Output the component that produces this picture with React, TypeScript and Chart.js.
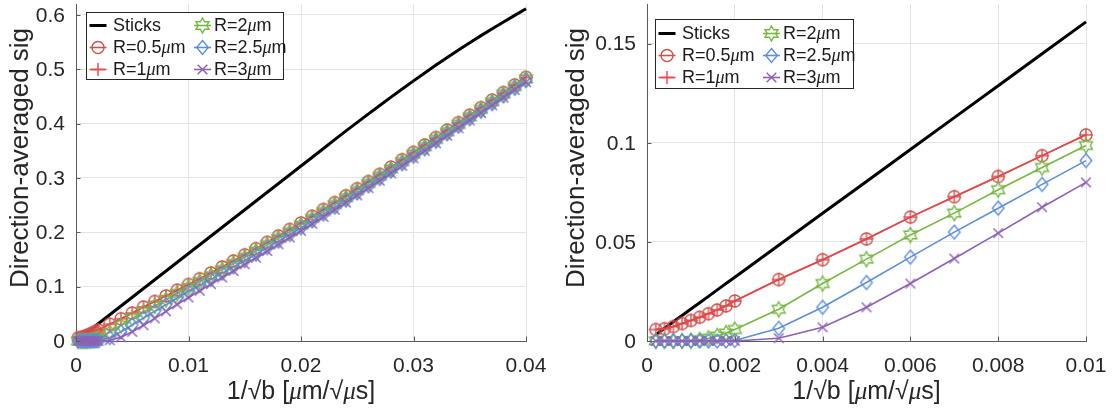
import React, { useEffect, useRef } from 'react';
import { Chart, registerables } from 'chart.js';

Chart.register(...registerables);

const FONT = '"Liberation Sans", Arial, Helvetica, sans-serif';
const MU_FONT = '"Liberation Serif", "DejaVu Serif", serif';
const AXIS_COLOR = '#5a5a5a';
const GRID_COLOR = '#e4e4e4';
const TEXT_COLOR = '#262626';

// ---------------- data ----------------
const xValues = [
  0.0002, 0.0004, 0.0006, 0.0008, 0.001, 0.0012, 0.0014, 0.0016, 0.0018, 0.002,
  0.003, 0.004, 0.005, 0.006, 0.007, 0.008, 0.009, 0.01,
  0.011, 0.012, 0.013, 0.014, 0.015, 0.016, 0.017, 0.018, 0.019, 0.02,
  0.021, 0.022, 0.023, 0.024, 0.025, 0.026, 0.027, 0.028, 0.029, 0.03,
  0.031, 0.032, 0.033, 0.034, 0.035, 0.036, 0.037, 0.038, 0.039, 0.04,
];

const sticksValues = [
  0.0032, 0.0064, 0.0097, 0.0129, 0.0161, 0.0193, 0.0225, 0.0258, 0.029, 0.0322,
  0.0483, 0.0644, 0.0805, 0.0966, 0.1127, 0.1288, 0.1449, 0.161,
  0.1771, 0.1932, 0.2093, 0.2254, 0.2415, 0.2576, 0.2737, 0.2898, 0.3059, 0.322,
  0.338, 0.3541, 0.3705, 0.3865, 0.4022, 0.4178, 0.4333, 0.4486, 0.4637, 0.4786,
  0.4932, 0.5076, 0.5216, 0.5353, 0.5487, 0.5618, 0.5745, 0.5868, 0.599, 0.6113,
];

const r05Values = [
  0.0058, 0.0062, 0.0073, 0.0088, 0.0104, 0.012, 0.0138, 0.0157, 0.0177, 0.0202,
  0.031, 0.041, 0.0515, 0.0625, 0.0728, 0.083, 0.0935, 0.104,
  0.1146, 0.1253, 0.1362, 0.1473, 0.1586, 0.17, 0.1816, 0.1933, 0.2053, 0.2173,
  0.2296, 0.242, 0.2546, 0.2673, 0.2803, 0.2934, 0.3066, 0.32, 0.3335, 0.3471,
  0.3607, 0.3743, 0.388, 0.4017, 0.4155, 0.4293, 0.4432, 0.4571, 0.4711, 0.4851,
];

const r1Values = [
  0.0058, 0.0062, 0.0073, 0.0088, 0.0104, 0.012, 0.0138, 0.0157, 0.0177, 0.0202,
  0.031, 0.041, 0.0515, 0.0625, 0.0728, 0.083, 0.0935, 0.104,
  0.1146, 0.1253, 0.1362, 0.1473, 0.1586, 0.17, 0.1816, 0.1933, 0.2053, 0.2173,
  0.2296, 0.242, 0.2546, 0.2673, 0.2803, 0.2934, 0.3066, 0.32, 0.3335, 0.3471,
  0.3607, 0.3743, 0.388, 0.4017, 0.4155, 0.4293, 0.4432, 0.4571, 0.4711, 0.4851,
];

const r2Values = [
  0, 0, 0, 0, 0.0002, 0.0006, 0.0014, 0.0025, 0.004, 0.0058,
  0.016, 0.029, 0.0413, 0.0535, 0.0645, 0.0763, 0.0875, 0.0986,
  0.1094, 0.1203, 0.1313, 0.1426, 0.154, 0.1655, 0.1772, 0.189, 0.2011, 0.2132,
  0.2256, 0.2381, 0.2508, 0.2636, 0.2767, 0.2898, 0.3031, 0.3165, 0.3301, 0.3437,
  0.3574, 0.371, 0.3848, 0.3985, 0.4124, 0.4262, 0.4401, 0.4541, 0.4681, 0.4821,
];

const r25Values = [
  0, 0, 0, 0, 0, 0, 0, 0, 0, 0.0003,
  0.0064, 0.017, 0.0295, 0.0423, 0.0549, 0.067, 0.079, 0.091,
  0.1022, 0.1134, 0.1248, 0.1363, 0.148, 0.1598, 0.1717, 0.1837, 0.196, 0.2083,
  0.2208, 0.2334, 0.2462, 0.2591, 0.2723, 0.2856, 0.299, 0.3125, 0.3262, 0.3399,
  0.3536, 0.3674, 0.3812, 0.395, 0.4089, 0.4228, 0.4368, 0.4508, 0.4649, 0.479,
];

const r3Values = [
  0, 0, 0, 0, 0, 0, 0, 0, 0, 0,
  0.0014, 0.0069, 0.017, 0.029, 0.0416, 0.0544, 0.0675, 0.08,
  0.0924, 0.1046, 0.1167, 0.1288, 0.141, 0.1532, 0.1655, 0.1778, 0.1904, 0.2029,
  0.2157, 0.2285, 0.2415, 0.2546, 0.2679, 0.2813, 0.2948, 0.3085, 0.3223, 0.3361,
  0.3499, 0.3637, 0.3776, 0.3915, 0.4055, 0.4195, 0.4336, 0.4477, 0.4619, 0.4761,
];

const seriesLabels = ['Sticks', 'R=0.5μm', 'R=1μm', 'R=2μm', 'R=2.5μm', 'R=3μm'];
const seriesValues = [sticksValues, r05Values, r1Values, r2Values, r25Values, r3Values];
const seriesColors = ['#000000', '#c2584b', '#e4474c', '#77b843', '#5b8fd8', '#8f5fb4'];
type MarkerKind = 'none' | 'circle' | 'plus' | 'hexagram' | 'diamond' | 'x';
const seriesMarkers: MarkerKind[] = ['none', 'circle', 'plus', 'hexagram', 'diamond', 'x'];

const leftXTicks = [0, 0.01, 0.02, 0.03, 0.04];
const leftXTickLabels = ['0', '0.01', '0.02', '0.03', '0.04'];
const leftYTicks = [0, 0.1, 0.2, 0.3, 0.4, 0.5, 0.6];
const leftYTickLabels = ['0', '0.1', '0.2', '0.3', '0.4', '0.5', '0.6'];

const rightXTicks = [0, 0.002, 0.004, 0.006, 0.008, 0.01];
const rightXTickLabels = ['0', '0.002', '0.004', '0.006', '0.008', '0.01'];
const rightYTicks = [0, 0.05, 0.1, 0.15];
const rightYTickLabels = ['0', '0.05', '0.1', '0.15'];

const xAxisTitle = '1/√b [μm/√μs]';
const yAxisTitle = 'Direction-averaged sig';

// ---------------- drawing helpers ----------------
function traceMarker(ctx: CanvasRenderingContext2D, kind: MarkerKind, x: number, y: number) {
  ctx.beginPath();
  if (kind === 'circle') {
    const r = 6;
    ctx.moveTo(x + r, y);
    ctx.arc(x, y, r, 0, Math.PI * 2);
  } else if (kind === 'plus') {
    const r = 6.5;
    ctx.moveTo(x - r, y);
    ctx.lineTo(x + r, y);
    ctx.moveTo(x, y - r);
    ctx.lineTo(x, y + r);
  } else if (kind === 'hexagram') {
    const R = 7.5;
    const ri = R / Math.sqrt(3);
    for (let k = 0; k < 12; k++) {
      const ang = -Math.PI / 2 + (k * Math.PI) / 6;
      const rr = k % 2 === 0 ? R : ri;
      const px = x + rr * Math.cos(ang);
      const py = y + rr * Math.sin(ang);
      if (k === 0) ctx.moveTo(px, py);
      else ctx.lineTo(px, py);
    }
    ctx.closePath();
  } else if (kind === 'diamond') {
    ctx.moveTo(x, y - 7);
    ctx.lineTo(x + 5.8, y);
    ctx.lineTo(x, y + 7);
    ctx.lineTo(x - 5.8, y);
    ctx.closePath();
  } else if (kind === 'x') {
    const r = 4.8;
    ctx.moveTo(x - r, y - r);
    ctx.lineTo(x + r, y + r);
    ctx.moveTo(x - r, y + r);
    ctx.lineTo(x + r, y - r);
  }
}

function strokeMarker(ctx: CanvasRenderingContext2D, kind: MarkerKind, x: number, y: number, color: string) {
  if (kind === 'none') return;
  ctx.save();
  ctx.strokeStyle = color;
  ctx.lineWidth = 1.4;
  traceMarker(ctx, kind, x, y);
  ctx.stroke();
  ctx.restore();
}

function makeMarkerCanvas(kind: MarkerKind, color: string): HTMLCanvasElement {
  const c = document.createElement('canvas');
  c.width = 20;
  c.height = 20;
  const g = c.getContext('2d')!;
  strokeMarker(g, kind, 10, 10, color);
  return c;
}

function splitMu(text: string) {
  const parts: { t: string; it: boolean }[] = [];
  let buf = '';
  for (const ch of text) {
    if (ch === 'μ') {
      if (buf) parts.push({ t: buf, it: false });
      parts.push({ t: 'μ', it: true });
      buf = '';
    } else buf += ch;
  }
  if (buf) parts.push({ t: buf, it: false });
  return parts;
}

function drawRich(
  ctx: CanvasRenderingContext2D,
  text: string,
  x: number,
  y: number,
  size: number,
  align: 'left' | 'center',
  baseline: CanvasTextBaseline,
  color: string,
) {
  const parts = splitMu(text);
  const fontOf = (it: boolean) => (it ? `italic ${size}px ${MU_FONT}` : `${size}px ${FONT}`);
  let total = 0;
  const widths = parts.map((p) => {
    ctx.font = fontOf(p.it);
    const w = ctx.measureText(p.t).width;
    total += w;
    return w;
  });
  let cx = align === 'center' ? x - total / 2 : x;
  ctx.save();
  ctx.fillStyle = color;
  ctx.textAlign = 'left';
  ctx.textBaseline = baseline;
  parts.forEach((p, i) => {
    ctx.font = fontOf(p.it);
    ctx.fillText(p.t, cx, y);
    cx += widths[i];
  });
  ctx.restore();
}

type PanelCfg = {
  left: number;
  width: number;
  xMax: number;
  yMax: number;
  xTicks: number[];
  xTickLabels: string[];
  yTicks: number[];
  yTickLabels: string[];
  padding: { left: number; right: number; top: number; bottom: number };
  legendBox: { x: number; y: number; w: number; h: number };
  yLabelX: number;
  yLabelY: number;
};

const leftPanel: PanelCfg = {
  left: 0,
  width: 560,
  xMax: 0.04,
  yMax: 0.62,
  xTicks: leftXTicks,
  xTickLabels: leftXTickLabels,
  yTicks: leftYTicks,
  yTickLabels: leftYTickLabels,
  padding: { left: 76, right: 34, top: 4, bottom: 73 },
  legendBox: { x: 86, y: 12, w: 197, h: 67 },
  yLabelX: 28,
  yLabelY: 158,
};

const rightPanel: PanelCfg = {
  left: 560,
  width: 555,
  xMax: 0.01,
  yMax: 0.17,
  xTicks: rightXTicks,
  xTickLabels: rightXTickLabels,
  yTicks: rightYTicks,
  yTickLabels: rightYTickLabels,
  padding: { left: 87, right: 29, top: 4, bottom: 73 },
  legendBox: { x: 95, y: 19, w: 198, h: 69 },
  yLabelX: 24,
  yLabelY: 158,
};

function Panel({ cfg }: { cfg: PanelCfg }) {
  const ref = useRef<HTMLCanvasElement>(null);

  useEffect(() => {
    const canvas = ref.current;
    if (!canvas) return;

    const datasets = seriesValues.map((vals, i) => ({
      label: seriesLabels[i],
      data: xValues
        .map((x, k) => ({ x, y: vals[k] }))
        .filter((p) => p.x <= cfg.xMax + 1e-12),
      showLine: true,
      borderColor: seriesColors[i],
      backgroundColor: seriesColors[i],
      borderWidth: i === 0 ? 3 : 1.6,
      pointRadius: i === 0 ? 0 : 6,
      pointHoverRadius: i === 0 ? 0 : 6,
      pointStyle: i === 0 ? false : (makeMarkerCanvas(seriesMarkers[i], seriesColors[i]) as any),
      clip: false as any,
      order: seriesLabels.length - i,
    }));

    const decor = {
      id: 'decor',
      afterDraw(chart: any) {
        const ctx: CanvasRenderingContext2D = chart.ctx;
        const a = chart.chartArea;
        const xs = chart.scales.x;
        const ys = chart.scales.y;
        ctx.save();
        // inward tick marks
        ctx.strokeStyle = AXIS_COLOR;
        ctx.lineWidth = 1;
        cfg.xTicks.forEach((v) => {
          const px = Math.round(xs.getPixelForValue(v)) + 0.5;
          ctx.beginPath();
          ctx.moveTo(px, a.bottom);
          ctx.lineTo(px, a.bottom - 4.5);
          ctx.stroke();
        });
        cfg.yTicks.forEach((v) => {
          const py = Math.round(ys.getPixelForValue(v)) + 0.5;
          ctx.beginPath();
          ctx.moveTo(a.left, py);
          ctx.lineTo(a.left + 4.5, py);
          ctx.stroke();
        });
        // tick labels
        ctx.fillStyle = TEXT_COLOR;
        ctx.font = `21px ${FONT}`;
        ctx.textAlign = 'center';
        ctx.textBaseline = 'alphabetic';
        cfg.xTicks.forEach((v, i) => {
          ctx.fillText(cfg.xTickLabels[i], xs.getPixelForValue(v), a.bottom + 30.5);
        });
        ctx.textAlign = 'right';
        ctx.textBaseline = 'middle';
        cfg.yTicks.forEach((v, i) => {
          ctx.fillText(cfg.yTickLabels[i], a.left - 11, ys.getPixelForValue(v) + 1);
        });
        // x axis title
        drawRich(ctx, xAxisTitle, (a.left + a.right) / 2, a.bottom + 58, 25, 'center', 'alphabetic', TEXT_COLOR);
        // y axis title
        ctx.save();
        ctx.translate(cfg.yLabelX, cfg.yLabelY);
        ctx.rotate(-Math.PI / 2);
        ctx.font = `26px ${FONT}`;
        ctx.fillStyle = TEXT_COLOR;
        ctx.textAlign = 'center';
        ctx.textBaseline = 'alphabetic';
        ctx.fillText(yAxisTitle, 0, 0);
        ctx.restore();

        // legend
        const b = cfg.legendBox;
        ctx.fillStyle = '#ffffff';
        ctx.fillRect(b.x, b.y, b.w, b.h);
        ctx.strokeStyle = '#262626';
        ctx.lineWidth = 1;
        ctx.strokeRect(b.x + 0.5, b.y + 0.5, b.w, b.h);
        seriesLabels.forEach((label, i) => {
          const col = Math.floor(i / 3);
          const row = i % 3;
          const cy = b.y + 13.5 + row * 22 + (b.h - 67) / 2;
          const mx = b.x + (col === 0 ? 12 : 116.5);
          ctx.save();
          ctx.strokeStyle = seriesColors[i];
          ctx.lineWidth = i === 0 ? 3 : 1.6;
          ctx.beginPath();
          ctx.moveTo(mx - 8.5, cy);
          ctx.lineTo(mx + 8.5, cy);
          ctx.stroke();
          ctx.restore();
          strokeMarker(ctx, seriesMarkers[i], mx, cy, seriesColors[i]);
          drawRich(ctx, label, b.x + (col === 0 ? 27 : 128), cy + 1, 18, 'left', 'middle', '#1a1a1a');
        });
        ctx.restore();
      },
    };

    const chart = new Chart(canvas, {
      type: 'scatter',
      data: { datasets: datasets as any },
      options: {
        animation: false,
        responsive: false,
        devicePixelRatio: 1,
        events: [],
        layout: { padding: cfg.padding, autoPadding: false } as any,
        plugins: {
          legend: { display: false },
          tooltip: { enabled: false },
          title: { display: false },
        },
        scales: {
          x: {
            type: 'linear',
            min: 0,
            max: cfg.xMax,
            afterBuildTicks: (s: any) => {
              s.ticks = cfg.xTicks.map((v) => ({ value: v }));
            },
            ticks: { display: false },
            grid: { color: GRID_COLOR, lineWidth: 1, drawTicks: false },
            border: { display: true, color: AXIS_COLOR, width: 1 },
          },
          y: {
            type: 'linear',
            min: 0,
            max: cfg.yMax,
            afterBuildTicks: (s: any) => {
              s.ticks = cfg.yTicks.map((v) => ({ value: v }));
            },
            ticks: { display: false },
            grid: { color: GRID_COLOR, lineWidth: 1, drawTicks: false },
            border: { display: true, color: AXIS_COLOR, width: 1 },
          },
        },
      },
      plugins: [decor],
    });

    return () => chart.destroy();
  }, [cfg]);

  return (
    <canvas
      ref={ref}
      width={cfg.width}
      height={414}
      style={{ position: 'absolute', left: cfg.left, top: 0, width: cfg.width, height: 414 }}
    />
  );
}

export default function App() {
  return (
    <div
      style={{
        position: 'fixed',
        left: 0,
        top: 0,
        width: 1115,
        height: 414,
        background: '#ffffff',
        overflow: 'hidden',
      }}
    >
      <Panel cfg={leftPanel} />
      <Panel cfg={rightPanel} />
    </div>
  );
}
